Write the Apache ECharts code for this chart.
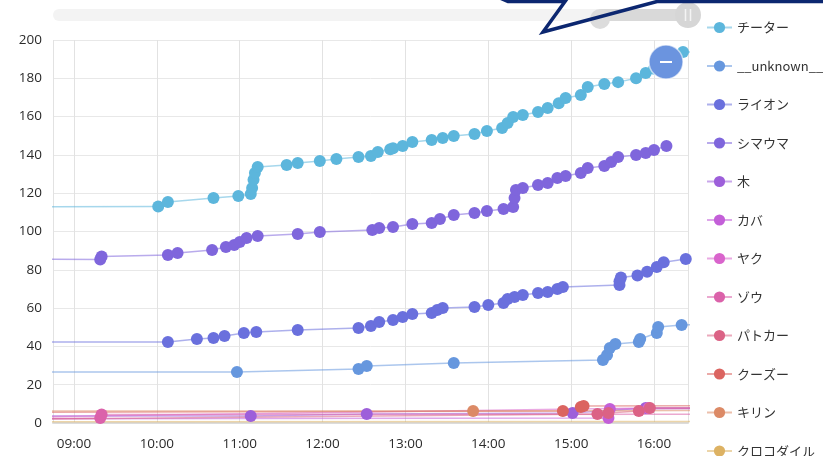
<!DOCTYPE html>
<html>
<head>
<meta charset="utf-8">
<script src="https://cdn.jsdelivr.net/npm/echarts@6/dist/echarts.min.js"></script>
<style>
  html, body { margin: 0; padding: 0; background: #fff; }
  #chart { width: 823px; height: 456px; }
</style>
</head>
<body>
<div id="chart"></div>
<script>
// Cumulative sightings per animal over the day: [time, count]
const DAY = '2024-05-01 ';

const cheetah = [
  ['08:00', 112.8], ['10:01', 113], ['10:08', 115.4], ['10:41', 117.5], ['10:59', 118.5],
  ['11:08', 119.6], ['11:09', 122.7], ['11:10', 127], ['11:11', 130.5], ['11:13', 133.7],
  ['11:34', 134.7], ['11:42', 135.8], ['11:58', 136.8], ['12:10', 137.8], ['12:26', 138.9],
  ['12:35', 139.4], ['12:40', 141.5], ['12:49', 143], ['12:51', 143.5], ['12:58', 144.6],
  ['13:05', 146.7], ['13:19', 147.8], ['13:27', 148.8], ['13:35', 149.9], ['13:50', 150.9],
  ['13:59', 152.5], ['14:10', 154], ['14:14', 156.6], ['14:18', 159.8], ['14:25', 160.8],
  ['14:36', 162.4], ['14:43', 164.5], ['14:51', 167], ['14:56', 169.7], ['15:07', 171.3],
  ['15:12', 175.5], ['15:24', 177], ['15:34', 178], ['15:47', 180], ['15:54', 182.8],
  ['16:00', 185], ['16:05', 188], ['16:10', 190], ['16:21', 193.7], ['17:00', 194]
];
const unknown = [
  ['08:00', 26.6], ['10:58', 26.6], ['12:26', 28.2], ['12:32', 29.8], ['13:35', 31.3],
  ['15:23', 32.9], ['15:26', 35.5], ['15:28', 39.2], ['15:32', 41.3], ['15:49', 42.3],
  ['15:50', 43.9], ['16:02', 47], ['16:03', 50.1], ['16:20', 51.2], ['17:00', 51.5]
];
const lion = [
  ['08:00', 42.3], ['10:08', 42.3], ['10:29', 43.9], ['10:41', 44.4], ['10:49', 45.4],
  ['11:03', 47], ['11:12', 47.5], ['11:42', 48.6], ['12:26', 49.6], ['12:35', 50.7],
  ['12:41', 52.7], ['12:51', 53.8], ['12:58', 55.4], ['13:05', 56.9], ['13:19', 57.4],
  ['13:23', 59], ['13:27', 60], ['13:50', 60.6], ['14:00', 61.6], ['14:11', 62.7],
  ['14:14', 64.8], ['14:19', 65.8], ['14:25', 66.8], ['14:36', 67.9], ['14:43', 68.4],
  ['14:50', 70], ['14:54', 71], ['15:35', 72], ['15:35', 74], ['15:36', 76],
  ['15:48', 77], ['15:55', 79], ['16:02', 81.5], ['16:07', 84], ['16:23', 85.6], ['17:00', 86]
];
const zebra = [
  ['08:00', 85.6], ['09:19', 85.4], ['09:20', 87], ['10:08', 87.7], ['10:15', 88.8],
  ['10:40', 90.3], ['10:50', 91.9], ['10:56', 93], ['11:00', 94.5], ['11:05', 96.6],
  ['11:13', 97.6], ['11:42', 98.7], ['11:58', 99.7], ['12:36', 100.8], ['12:41', 101.8],
  ['12:51', 102.4], ['13:05', 103.9], ['13:19', 104.4], ['13:25', 106.5], ['13:35', 108.6],
  ['13:50', 109.7], ['13:59', 110.7], ['14:11', 111.7], ['14:18', 112.8], ['14:19', 117.5],
  ['14:20', 121.7], ['14:25', 122.7], ['14:36', 124.3], ['14:43', 125.3], ['14:50', 127.9],
  ['14:56', 129], ['15:07', 130.5], ['15:12', 133.2], ['15:24', 134.2], ['15:29', 136.3],
  ['15:34', 138.9], ['15:47', 140], ['15:54', 141], ['16:00', 142.6], ['16:09', 144.6]
];
const tree = [
  ['08:00', 3.6], ['11:08', 3.7], ['12:32', 4.7], ['15:01', 5.2], ['15:54', 7.8], ['17:00', 8]
];
const hippo = [
  ['08:00', 2.2], ['15:27', 2.6], ['15:28', 7.3], ['17:00', 7.5]
];
const yak = [
  ['08:00', 3.0], ['15:56', 7.8], ['17:00', 8]
];
const elephant = [
  ['08:00', 2.4], ['09:19', 2.6], ['09:20', 4.4], ['17:00', 4.6]
];
const patrolCar = [
  ['08:00', 1.8], ['15:19', 4.7], ['15:27', 5.2], ['15:49', 6.3], ['15:57', 7.8], ['17:00', 8]
];
const kudu = [
  ['08:00', 5.6], ['14:54', 6.3], ['15:07', 8.4], ['15:09', 8.9], ['17:00', 9]
];
const giraffe = [
  ['08:00', 6.3], ['13:49', 6.3], ['17:00', 6.6]
];
const crocodile = [
  ['08:00', 0.6], ['17:00', 0.8]
];

const seriesNames = ['チーター', '__unknown__', 'ライオン', 'シマウマ', '木', 'カバ', 'ヤク', 'ゾウ', 'パトカー', 'クーズー', 'キリン', 'クロコダイル'];
const seriesData = [cheetah, unknown, lion, zebra, tree, hippo, yak, elephant, patrolCar, kudu, giraffe, crocodile];
const seriesColors = ['#5cb6dc', '#6697de', '#6a70dd', '#7f66dc', '#9d5fda', '#c35fd8', '#d964cc', '#db62aa', '#db6285', '#db6460', '#dc8a66', '#ddb263'];

const chart = echarts.init(document.getElementById('chart'));

const series = seriesNames.map((name, i) => ({
  name,
  type: 'line',
  symbol: 'circle',
  symbolSize: 12,
  showAllSymbol: true,
  color: seriesColors[i],
  itemStyle: { color: seriesColors[i] },
  lineStyle: { width: 1.5, opacity: 0.55 },
  emphasis: { disabled: true },
  data: seriesData[i].map(([t, v]) => [DAY + t, v])
}));

const labelFont = '"Open Sans", sans-serif';

chart.setOption({
  animation: false,
  backgroundColor: '#fff',
  grid: { left: 53, right: 135, top: 40, bottom: 33 },
  legend: {
    orient: 'vertical',
    left: 701,
    top: 16,
    height: 520,
    itemWidth: 25,
    itemHeight: 14,
    itemGap: 25.5,
    textStyle: { fontSize: 13, color: '#333', fontFamily: '"Noto Sans CJK JP", "Noto Sans", sans-serif' },
    data: seriesNames
  },
  xAxis: {
    type: 'time',
    min: DAY + '08:44:48',
    max: DAY + '16:24:36',
    minInterval: 3600 * 1000,
    maxInterval: 3600 * 1000,
    axisLine: { lineStyle: { color: '#dcdcdc', width: 2 } },
    axisTick: { show: false },
    splitLine: { show: true, lineStyle: { color: '#e2e2e2' } },
    axisLabel: {
      margin: 14,
      fontSize: 13.5,
      color: '#2b2b2b',
      fontFamily: labelFont,
      showMinLabel: false,
      showMaxLabel: false,
      formatter: v => echarts.time.format(v, '{HH}:{mm}', false)
    }
  },
  yAxis: {
    type: 'value',
    min: 0,
    max: 200,
    interval: 20,
    axisLine: { show: false },
    axisTick: { show: false },
    splitLine: { lineStyle: { color: '#e8e8e8' } },
    axisLabel: { margin: 11, fontSize: 13.5, color: '#2b2b2b', fontFamily: labelFont }
  },
  graphic: [
    // zoom slider strip along the top
    { type: 'rect', z: 10, shape: { x: 53, y: 9, width: 637, height: 12, r: 6 }, style: { fill: '#f3f3f3' } },
    { type: 'rect', z: 11, shape: { x: 600, y: 9, width: 88, height: 12 }, style: { fill: '#d9d9d9' } },
    { type: 'circle', z: 11, shape: { cx: 600, cy: 19, r: 10 }, style: { fill: '#dcdcdc' } },
    { type: 'circle', z: 12, shape: { cx: 688, cy: 15, r: 13 }, style: { fill: '#d6d6d6' } },
    { type: 'line', z: 13, shape: { x1: 685.5, y1: 9, x2: 685.5, y2: 21 }, style: { stroke: '#f4f4f4', lineWidth: 1.5 } },
    { type: 'line', z: 13, shape: { x1: 690.5, y1: 9, x2: 690.5, y2: 21 }, style: { stroke: '#f4f4f4', lineWidth: 1.5 } },
    // speech-bubble outline with its tail
    {
      type: 'polyline', z: 20,
      shape: { points: [[498, -12], [500, -2], [508, 1.5], [565, 1.5], [543, 32], [657, 1.5], [830, 1.5]] },
      style: { stroke: '#0c2770', lineWidth: 3.5, fill: null, lineJoin: 'miter' }
    },
    // collapse button
    { type: 'circle', z: 20, shape: { cx: 666, cy: 62, r: 17 }, style: { fill: '#6b94df', stroke: 'rgba(255,255,255,0.6)', lineWidth: 1.5 } },
    { type: 'line', z: 21, shape: { x1: 660, y1: 62, x2: 672, y2: 62 }, style: { stroke: '#fff', lineWidth: 2 } }
  ],
  series
});
</script>
</body>
</html>
